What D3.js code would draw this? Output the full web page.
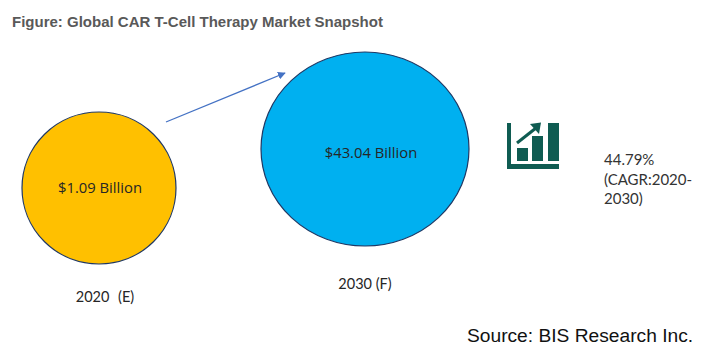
<!DOCTYPE html>
<html>
<head>
  <meta charset="utf-8">
  <title>Global CAR T-Cell Therapy Market Snapshot</title>
  <style>
    html, body { margin: 0; padding: 0; background: #fff; }
    svg { display: block; }
    text { font-family: "Open Sans", sans-serif; }
  </style>
</head>
<body>
  <div id="chart"></div>
  <script src="https://d3js.org/d3.v7.min.js"></script>
  <script>
    const years = ['2020 (E)', '2030 (F)'];
    const values = [1.09, 43.04];
    const valueLabels = ['$1.09 Billion', '$43.04 Billion'];
    const cagrLines = ['44.79%', '(CAGR:2020-', '2030)'];
    const titleText = 'Figure: Global CAR T-Cell Therapy Market Snapshot';
    const sourceText = 'Source: BIS Research Inc.';

    const width = 705, height = 357;

    const svg = d3.select('#chart').append('svg')
      .attr('width', width)
      .attr('height', height);

    // bubbles are not to scale in the original, sizes just grow with the value
    const x = d3.scalePoint().domain(years).range([99, 365]);
    const y = d3.scaleLinear().domain(d3.extent(values)).range([188, 149]);
    const rx = d3.scaleLinear().domain(d3.extent(values)).range([77, 104]);
    const ry = d3.scaleLinear().domain(d3.extent(values)).range([76, 97]);
    const color = d3.scaleOrdinal().domain(years).range(['#ffc000', '#00b0f0']);
    const labelX = d3.scaleOrdinal().domain(years).range([105, 365]);
    const labelY = d3.scaleOrdinal().domain(years).range([302, 289]);
    const labelGap = d3.scaleOrdinal().domain(years).range([5, 0]);
    const valueX = d3.scaleOrdinal().domain(years).range([100, 371]);
    const valueY = d3.scaleOrdinal().domain(years).range([193, 158]);

    svg.append('text')
      .attr('x', 12)
      .attr('y', 27)
      .attr('fill', '#595959')
      .attr('font-size', 15)
      .attr('font-weight', 'bold')
      .style('font-family', 'Liberation Sans')
      .text(titleText);

    svg.append('defs').append('marker')
      .attr('id', 'head')
      .attr('viewBox', '0 0 10 10')
      .attr('refX', 9)
      .attr('refY', 5)
      .attr('markerWidth', 6)
      .attr('markerHeight', 6)
      .attr('orient', 'auto')
      .append('path')
      .attr('d', 'M0,0L10,5L0,10Z')
      .attr('fill', '#4472c4');

    svg.append('line')
      .attr('x1', 166)
      .attr('y1', 122)
      .attr('x2', 285)
      .attr('y2', 73)
      .attr('stroke', '#4472c4')
      .attr('stroke-width', 1.3)
      .attr('marker-end', 'url(#head)');

    const rows = years.map((year, i) => ({ year, value: values[i], label: valueLabels[i] }));

    svg.selectAll('ellipse')
      .data(rows)
      .join('ellipse')
      .attr('cx', d => x(d.year))
      .attr('cy', d => y(d.value))
      .attr('rx', d => rx(d.value))
      .attr('ry', d => ry(d.value))
      .attr('fill', d => color(d.year))
      .attr('stroke', '#1f3864')
      .attr('stroke-width', 1.2);

    svg.selectAll('text.value')
      .data(rows)
      .join('text')
      .attr('class', 'value')
      .attr('x', d => valueX(d.year))
      .attr('y', d => valueY(d.year))
      .attr('text-anchor', 'middle')
      .attr('fill', '#262626')
      .attr('font-size', 14.8)
      .text(d => d.label);

    svg.selectAll('text.year')
      .data(rows)
      .join('text')
      .attr('class', 'year')
      .attr('x', d => labelX(d.year))
      .attr('y', d => labelY(d.year))
      .attr('text-anchor', 'middle')
      .attr('fill', '#262626')
      .attr('font-size', 14.5)
      .attr('word-spacing', d => labelGap(d.year))
      .style('font-family', 'Lato')
      .text(d => d.year);

    // trend icon
    const icon = svg.append('g').attr('fill', '#0f5c52');
    icon.append('path').attr('d', 'M507,123h4v41h48v5h-52Z');
    icon.selectAll('rect')
      .data([[517, 148, 11, 13], [532, 136, 11, 25], [548, 123, 11, 38]])
      .join('rect')
      .attr('x', d => d[0])
      .attr('y', d => d[1])
      .attr('width', d => d[2])
      .attr('height', d => d[3]);
    icon.append('path')
      .attr('d', 'M517,143L536,128')
      .attr('stroke', '#0f5c52')
      .attr('stroke-width', 3);
    icon.append('path').attr('d', 'M530,124L541,122.5L539,134Z');

    svg.append('g')
      .selectAll('text')
      .data(cagrLines)
      .join('text')
      .attr('x', 604)
      .attr('y', (d, i) => 165 + i * 19.5)
      .attr('fill', '#333')
      .attr('font-size', 15)
      .style('font-family', 'Lato')
      .text(d => d);

    svg.append('text')
      .attr('x', 467)
      .attr('y', 342)
      .attr('fill', '#111')
      .attr('font-size', 19.2)
      .style('font-family', 'Liberation Sans')
      .text(sourceText);
  </script>
</body>
</html>
